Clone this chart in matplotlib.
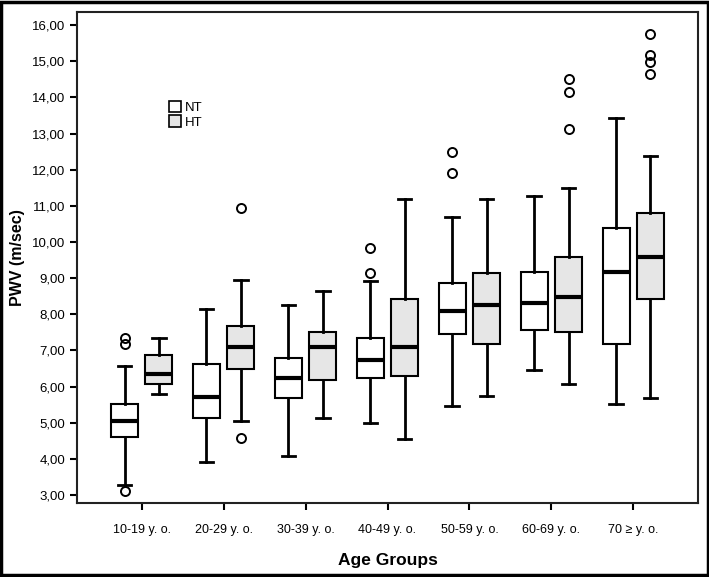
import matplotlib
matplotlib.use("Agg")
import matplotlib.pyplot as plt
from matplotlib.patches import Patch, Rectangle
from matplotlib.ticker import FuncFormatter

plt.rcParams['font.family'] = ['Liberation Sans', 'DejaVu Sans']

categories = ["10-19 y. o.", "20-29 y. o.", "30-39 y. o.", "40-49 y. o.",
              "50-59 y. o.", "60-69 y. o.", "70 ≥ y. o."]

# NT group: lower whisker, Q1, median, Q3, upper whisker, outliers
nt_low = [3.28, 3.91, 4.08, 5.00, 5.46, 6.45, 5.52]
nt_q1 = [4.61, 5.12, 5.67, 6.23, 7.44, 7.57, 7.19]
nt_med = [5.06, 5.72, 6.24, 6.73, 8.10, 8.32, 9.18]
nt_q3 = [5.52, 6.61, 6.78, 7.35, 8.87, 9.17, 10.39]
nt_high = [6.57, 8.14, 8.25, 8.93, 10.70, 11.27, 13.43]
nt_out = [[3.12, 7.17, 7.33], [], [], [9.13, 9.82], [11.91, 12.49], [], []]

# HT group
ht_low = [5.80, 5.04, 5.12, 4.54, 5.73, 6.08, 5.67]
ht_q1 = [6.07, 6.48, 6.18, 6.30, 7.19, 7.50, 8.41]
ht_med = [6.35, 7.09, 7.10, 7.10, 8.26, 8.48, 9.59]
ht_q3 = [6.88, 7.67, 7.52, 8.41, 9.15, 9.59, 10.79]
ht_high = [7.35, 8.95, 8.64, 11.20, 11.18, 11.50, 12.37]
ht_out = [[], [4.57, 10.95], [], [], [], [13.13, 14.15, 14.52],
          [14.64, 14.97, 15.17, 15.75]]

yticks = [3, 4, 5, 6, 7, 8, 9, 10, 11, 12, 13, 14, 15, 16]


def stats(low, q1, med, q3, high, out):
    return [dict(whislo=a, q1=b, med=c, q3=d, whishi=e, fliers=f)
            for a, b, c, d, e, f in zip(low, q1, med, q3, high, out)]


fig = plt.figure(figsize=(7.09, 5.77), dpi=100)
ax = fig.add_axes([77 / 709, 1 - 503.3 / 577, 621 / 709, 491.6 / 577])

off = 0.21
w = 0.33
common = dict(widths=w, patch_artist=True, showfliers=True,
              whiskerprops=dict(color="black", linewidth=2.0),
              capprops=dict(color="black", linewidth=2.0),
              medianprops=dict(color="black", linewidth=3.0),
              flierprops=dict(marker="o", markerfacecolor="none",
                              markeredgecolor="black", markersize=6.5,
                              markeredgewidth=1.4),
              capwidths=w * 0.5)
nx = list(range(len(categories)))
b1 = ax.bxp(stats(nt_low, nt_q1, nt_med, nt_q3, nt_high, nt_out),
            positions=[i - off for i in nx],
            boxprops=dict(facecolor="white", edgecolor="black", linewidth=1.5),
            **common)
b2 = ax.bxp(stats(ht_low, ht_q1, ht_med, ht_q3, ht_high, ht_out),
            positions=[i + off for i in nx],
            boxprops=dict(facecolor="#e6e6e6", edgecolor="black", linewidth=1.5),
            **common)

ax.set_xlim(-0.79, 6.79)
ax.set_ylim(2.77, 16.37)
ax.set_xticks(nx)
ax.set_xticklabels(categories, fontsize=9)
ax.set_yticks(yticks)
ax.yaxis.set_major_formatter(FuncFormatter(lambda v, p: f"{v:.2f}".replace(".", ",")))
ax.tick_params(axis="y", labelsize=9.5, length=5, width=1.5, direction="out")
ax.tick_params(axis="x", length=5, width=1.5, direction="out", pad=10)
for s in ax.spines.values():
    s.set_linewidth(1.5)
    s.set_color("#222222")

ax.set_ylabel("PWV (m/sec)", fontsize=11.5, fontweight="bold", labelpad=5)
ax.set_xlabel("Age Groups", fontsize=12.5, fontweight="bold", labelpad=12)

handles = [Patch(facecolor="white", edgecolor="black", linewidth=1.2, label="NT"),
           Patch(facecolor="#e6e6e6", edgecolor="black", linewidth=1.2, label="HT")]
ax.legend(handles=handles, loc="upper left", bbox_to_anchor=(0.14, 0.83),
          frameon=False, fontsize=9.5, handlelength=0.9, handleheight=1.0,
          handletextpad=0.3, labelspacing=0.1, borderaxespad=0)

fig.patches.append(Rectangle((0.002, 0.003), 0.996, 0.994, transform=fig.transFigure,
                             fill=False, edgecolor="black", linewidth=2.5))

fig.savefig("out.png", dpi=100)
